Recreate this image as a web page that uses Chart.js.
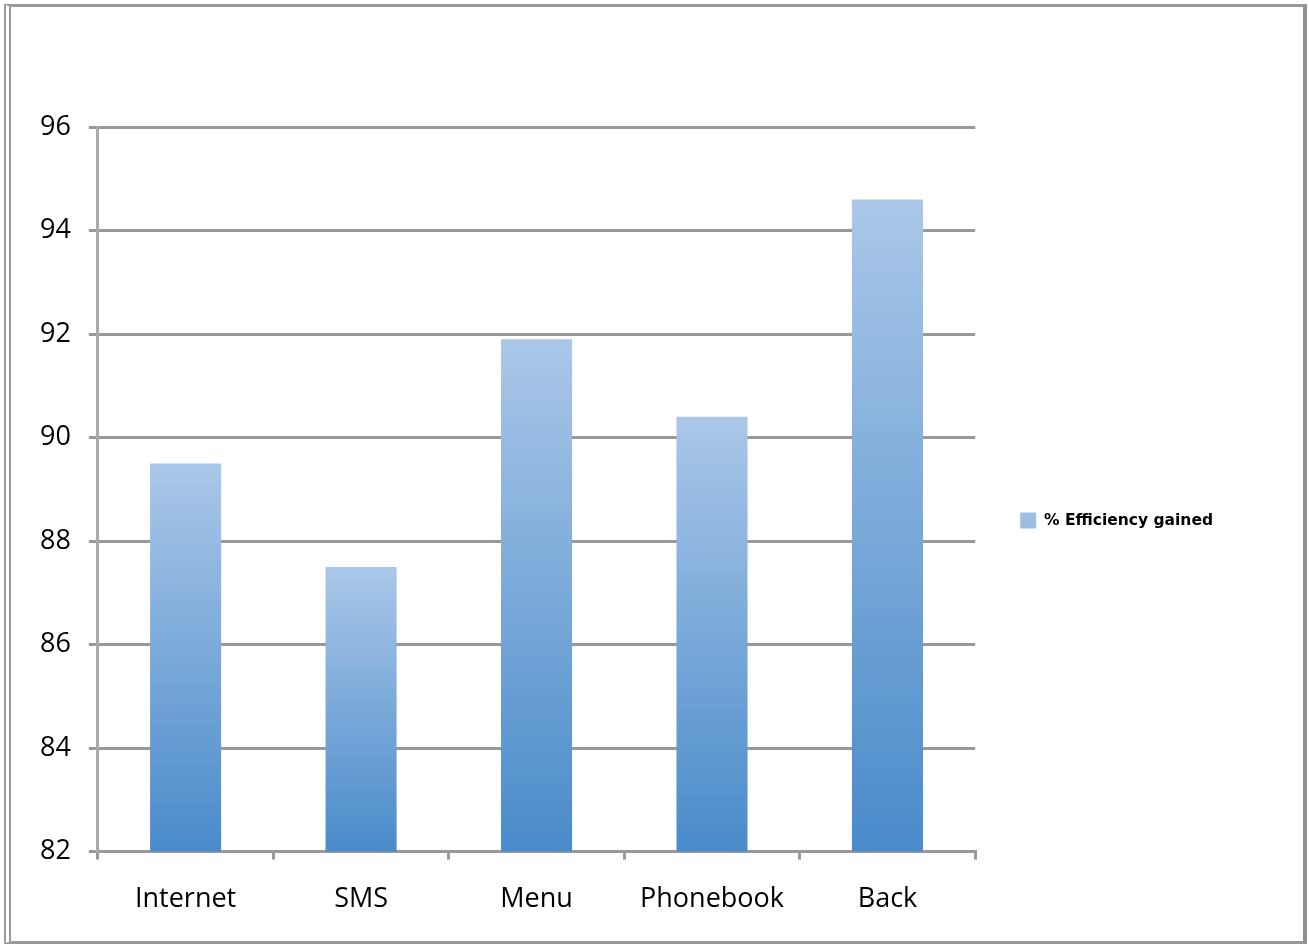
<!DOCTYPE html>
<html lang="en">
<head>
    <meta charset="UTF-8">
    <title>% Efficiency gained</title>
    <script src="https://cdn.jsdelivr.net/npm/chart.js"></script>
    <style>
        body {
            margin: 0;
            background: white;
            overflow: hidden;
        }
        #wrap {
            position: relative;
            width: 1309px;
            height: 944px;
        }
        canvas {
            position: absolute;
            left: 0;
            top: 0;
        }
        .frame {
            position: absolute;
            left: 4px;
            top: 4px;
            width: 1292px;
            height: 934px;
            border-top: 3px solid #999;
            border-bottom: 3px solid #999;
            border-right: 4px solid #8f8f8f;
            border-left: 7px double #999;
            pointer-events: none;
        }
    </style>
</head>
<body>
<div id="wrap">
    <canvas id="chart1" width="1309" height="944"></canvas>
    <div class="frame"></div>
</div>

<script>
    const categories = ["Internet", "SMS", "Menu", "Phonebook", "Back"];
    const efficiency = [89.5, 87.5, 91.9, 90.4, 94.6];
    const seriesName = "% Efficiency gained";
    const yMin = 82, yMax = 96, yStep = 2;

    const topColor = "#aac7e8";
    const bottomColor = "#4a8bca";

    function barFill(ctx) {
        const chart = ctx.chart;
        if (!chart.chartArea || ctx.raw === undefined) {
            return "#7aa8da";
        }
        const y = chart.scales.y;
        const top = y.getPixelForValue(ctx.raw);
        const bottom = y.getPixelForValue(y.min);
        const g = chart.ctx.createLinearGradient(0, top, 0, bottom);
        g.addColorStop(0, topColor);
        g.addColorStop(1, bottomColor);
        return g;
    }

    // legend sits a little above the middle in the original
    const legendNudge = {
        id: "legendNudge",
        afterLayout(chart) {
            chart.legend.top -= 13;
            chart.legend.bottom -= 13;
        }
    };

    const tickFont = { family: "'Open Sans', sans-serif", size: 27 };

    new Chart(document.getElementById("chart1").getContext("2d"), {
        type: "bar",
        data: {
            labels: categories,
            datasets: [{
                label: seriesName,
                data: efficiency,
                backgroundColor: barFill,
                borderWidth: 0,
                barPercentage: 0.405,
                categoryPercentage: 1
            }]
        },
        options: {
            responsive: false,
            animation: false,
            layout: {
                padding: { left: 22, right: 86, top: 127, bottom: 4 }
            },
            scales: {
                x: {
                    offset: true,
                    grid: {
                        offset: true,
                        drawOnChartArea: false,
                        color: "#999",
                        lineWidth: 3,
                        tickLength: 8
                    },
                    border: { color: "#999", width: 3 },
                    ticks: {
                        color: "#000",
                        font: tickFont,
                        padding: 24,
                        maxRotation: 0
                    }
                },
                y: {
                    min: yMin,
                    max: yMax,
                    grid: {
                        color: "#999",
                        lineWidth: 3,
                        tickLength: 9
                    },
                    border: { color: "#aaa", width: 3 },
                    ticks: {
                        stepSize: yStep,
                        color: "#000",
                        font: tickFont,
                        padding: 18
                    }
                }
            },
            plugins: {
                legend: {
                    position: "right",
                    labels: {
                        boxWidth: 16,
                        boxHeight: 16,
                        padding: 45,
                        color: "#000",
                        font: { family: "'DejaVu Sans', sans-serif", size: 15.5, weight: "bold" }
                    }
                },
                tooltip: { enabled: false }
            }
        },
        plugins: [legendNudge]
    });
</script>
</body>
</html>
